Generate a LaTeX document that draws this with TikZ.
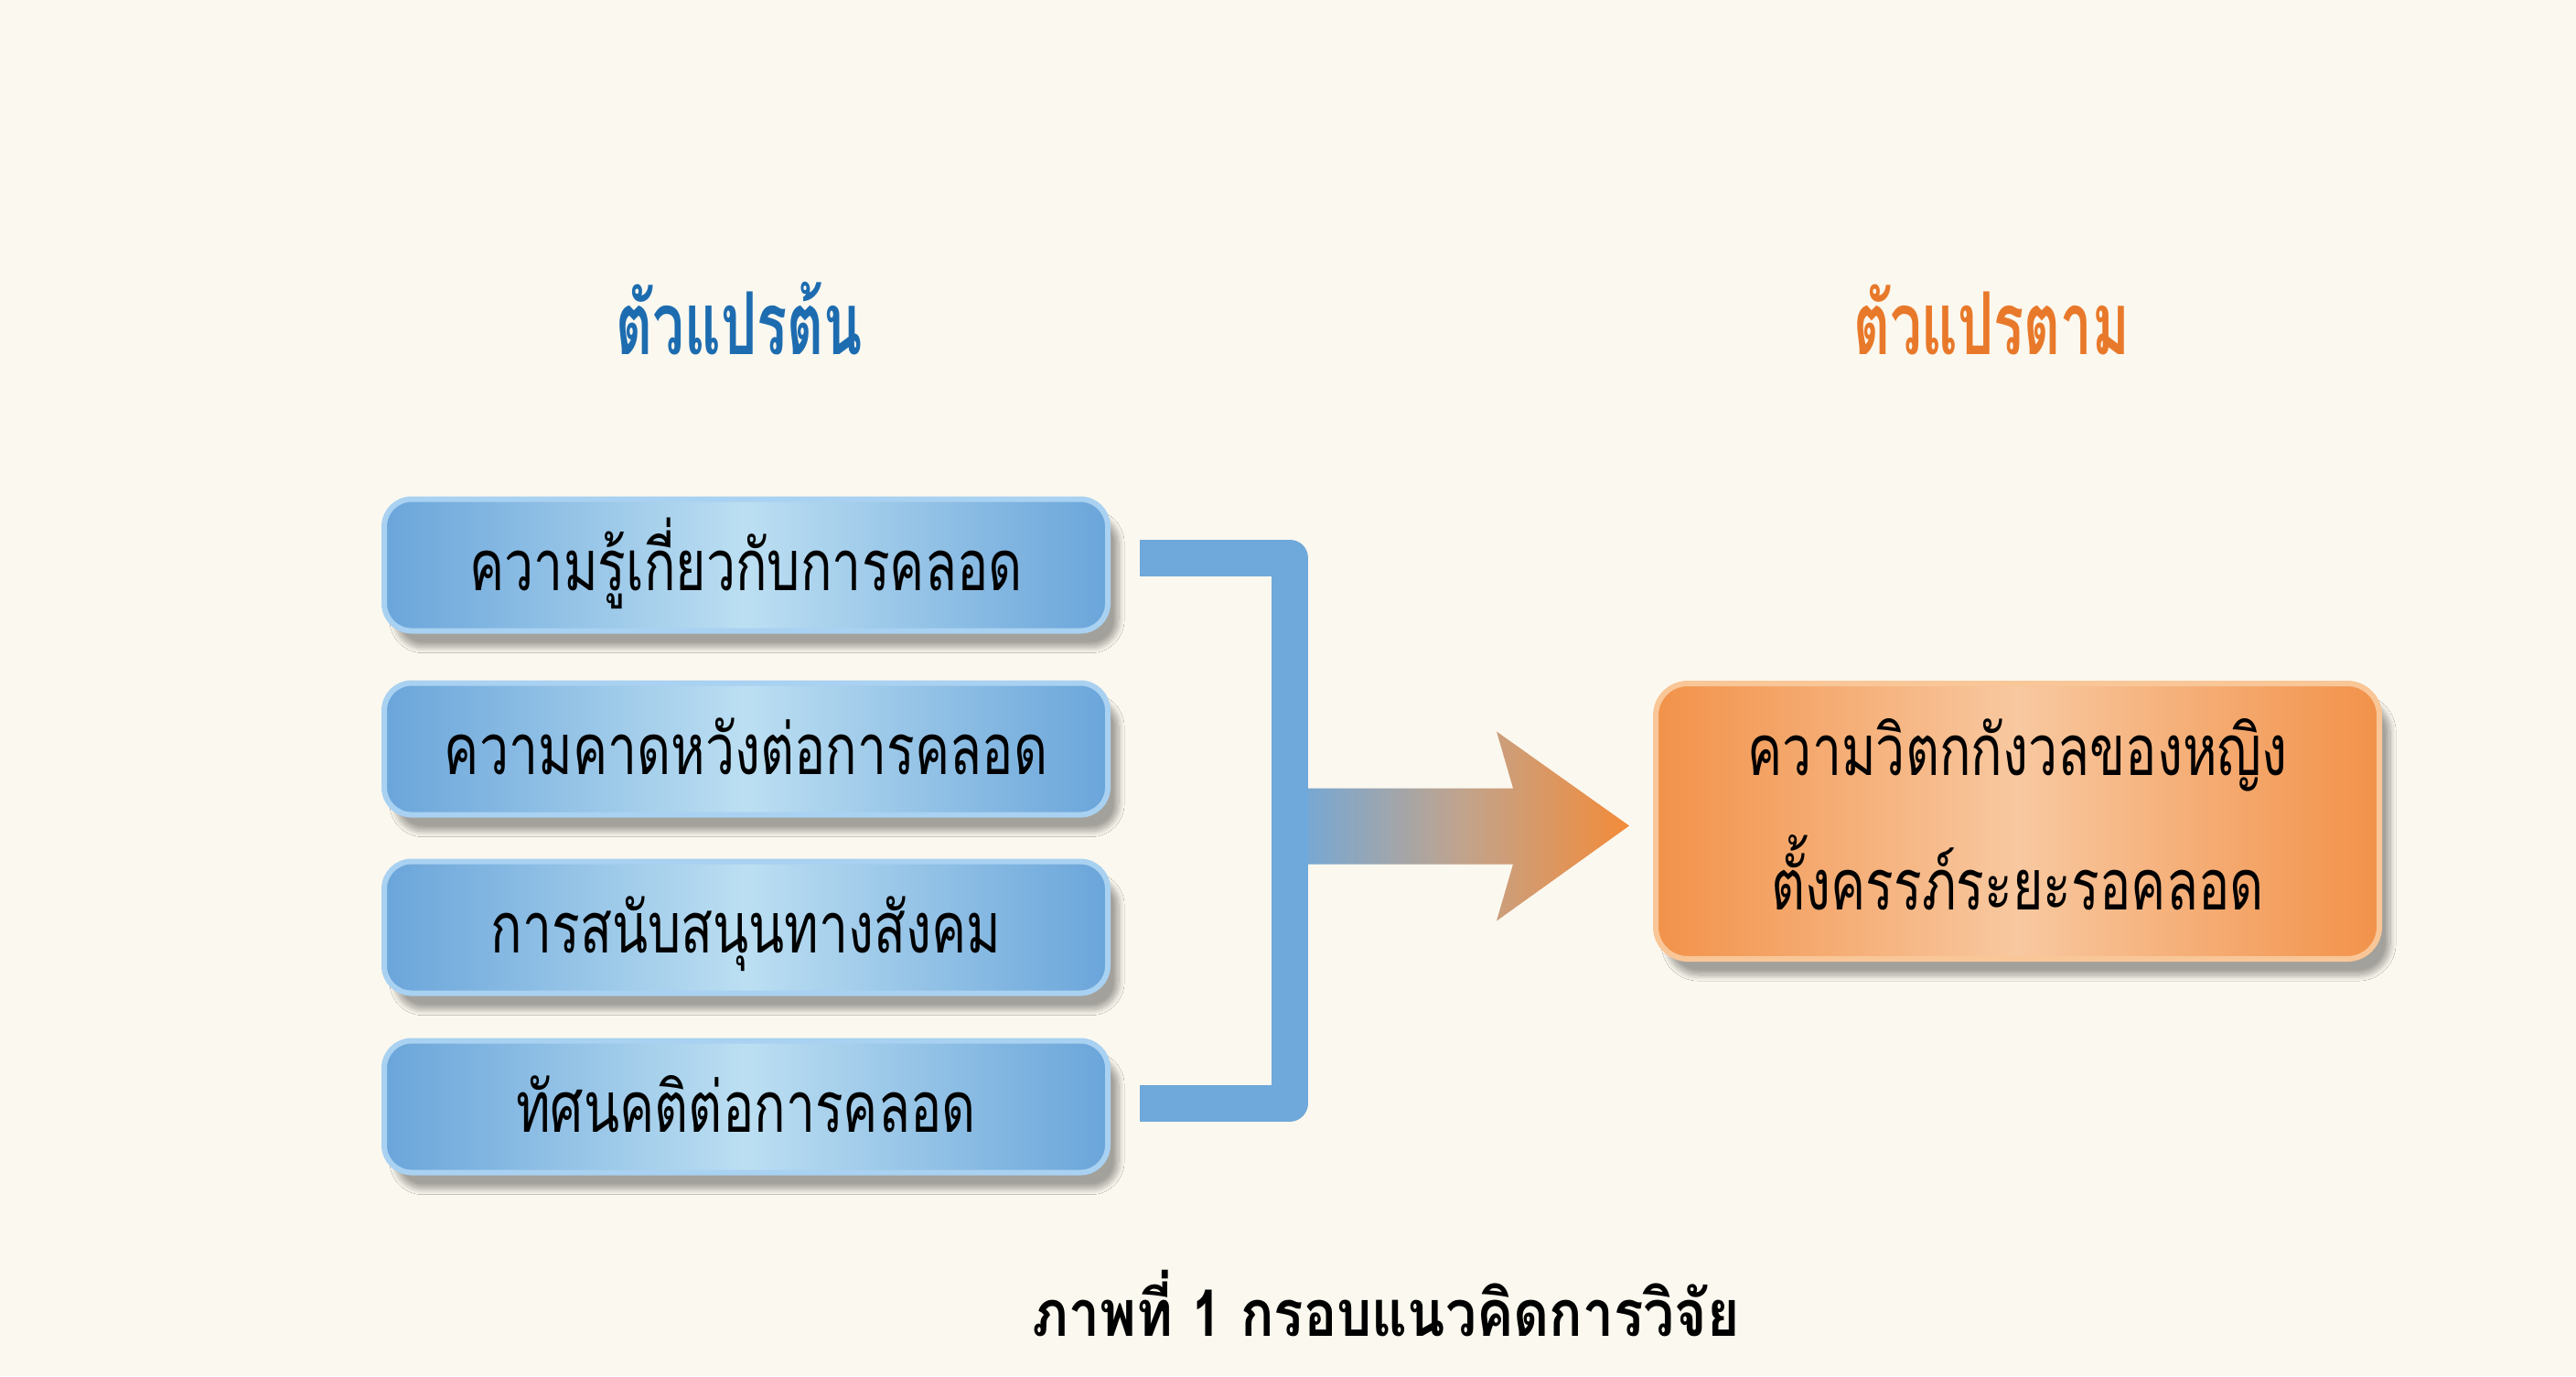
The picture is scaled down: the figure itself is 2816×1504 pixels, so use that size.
\documentclass[tikz,border=0pt]{standalone}
\usepackage{fontspec}
\usetikzlibrary{shadows.blur,calc}
\newfontfamily\thaitext[Script=Thai,FakeStretch=0.74]{Loma}
\newfontfamily\thaihead[Script=Thai,FakeStretch=0.65]{Loma}
\newfontfamily\thaicap[Script=Thai,FakeStretch=0.86]{Loma}
\definecolor{bg}{HTML}{FBF8EF}
\definecolor{bedge}{HTML}{6AA5DA}
\definecolor{bmid}{HTML}{BCDFF2}
\definecolor{bborder}{HTML}{A9D1F1}
\definecolor{bline}{HTML}{6FA8DA}
\definecolor{oedge}{HTML}{F2924A}
\definecolor{omid}{HTML}{F8C8A0}
\definecolor{oborder}{HTML}{F9C697}
\definecolor{otip}{HTML}{F38B3A}
\definecolor{amid}{HTML}{C0A48E}
\definecolor{hblue}{HTML}{1D6CB0}
\definecolor{horange}{HTML}{E8792A}
\begin{document}
\begin{tikzpicture}[x=0.1mm,y=-0.1mm,
  vbox/.style={rectangle, rounded corners=3mm, minimum width=79.1mm, minimum height=14.4mm,
    left color=bedge, right color=bedge, middle color=bmid, draw=bborder, line width=0.6mm,
    blur shadow={shadow xshift=1.2mm, shadow yshift=-1.8mm, shadow opacity=35, shadow blur steps=12, shadow blur extra rounding=1mm},
    font=\thaitext\fontsize{22pt}{26pt}\selectfont, text=black,
    text height=7.5mm, text depth=2mm, inner sep=0pt},
  obox/.style={rectangle, rounded corners=3.5mm, minimum width=79.1mm, minimum height=30.1mm,
    left color=oedge, right color=oedge, middle color=omid, draw=oborder, line width=0.6mm,
    blur shadow={shadow xshift=1.2mm, shadow yshift=-1.8mm, shadow opacity=35, shadow blur steps=12, shadow blur extra rounding=1mm}},
  otext/.style={font=\thaitext\fontsize{22pt}{26pt}\selectfont, text=black, inner sep=0pt, anchor=base},
  heading/.style={font=\thaihead\bfseries\fontsize{27pt}{30pt}\selectfont, inner sep=0pt, anchor=base},
  caption/.style={font=\thaicap\bfseries\fontsize{20pt}{24pt}\selectfont, text=black, inner sep=0pt, anchor=base},
  bracket/.style={draw=bline, line width=4mm, line join=round, line cap=butt},
]
\fill[bg] (0,0) rectangle (2816,1504);
\useasboundingbox (0,0) rectangle (2816,1504);

\node[heading, text=hblue] (h1) at (808,387) {ตัวแปรต้น};
\node[heading, text=horange] (h2) at (2177,387) {ตัวแปรตาม};

\node[vbox] (b1) at (815.5,617.5) {ความรู้เกี่ยวกับการคลอด};
\node[vbox] (b2) at (815.5,818.5) {ความคาดหวังต่อการคลอด};
\node[vbox] (b3) at (815.5,1013.5) {การสนับสนุนทางสังคม};
\node[vbox] (b4) at (815.5,1209.5) {ทัศนคติต่อการคลอด};

\node[obox] (ob) at (2205.5,897.5) {};
\node[otext] (ot1) at ($(ob.center)+(0,-50)$) {ความวิตกกังวลของหญิง};
\node[otext] (ot2) at ($(ob.center)+(0,97)$) {ตั้งครรภ์ระยะรอคลอด};

\coordinate (tip) at ($(ob.west)+(-26,5)$);
\shade[left color=bline, right color=otip, middle color=amid]
  ($(tip)+(-371,-41)$) -- ($(tip)+(-127,-41)$) -- ($(tip)+(-145,-103)$) -- (tip)
  -- ($(tip)+(-145,104)$) -- ($(tip)+(-127,42)$) -- ($(tip)+(-371,42)$) -- cycle;

\coordinate (s1) at ($(b1.east)+(32,-8)$);
\coordinate (s4) at ($(b4.east)+(32,-4)$);
\coordinate (v1) at ($(s1)+(164,0)$);
\draw[bracket] (s1) -- (v1) |- (s4);

\node[caption] (cap) at (1515,1460) {ภาพที่ 1 กรอบแนวคิดการวิจัย};
\end{tikzpicture}
\end{document}
